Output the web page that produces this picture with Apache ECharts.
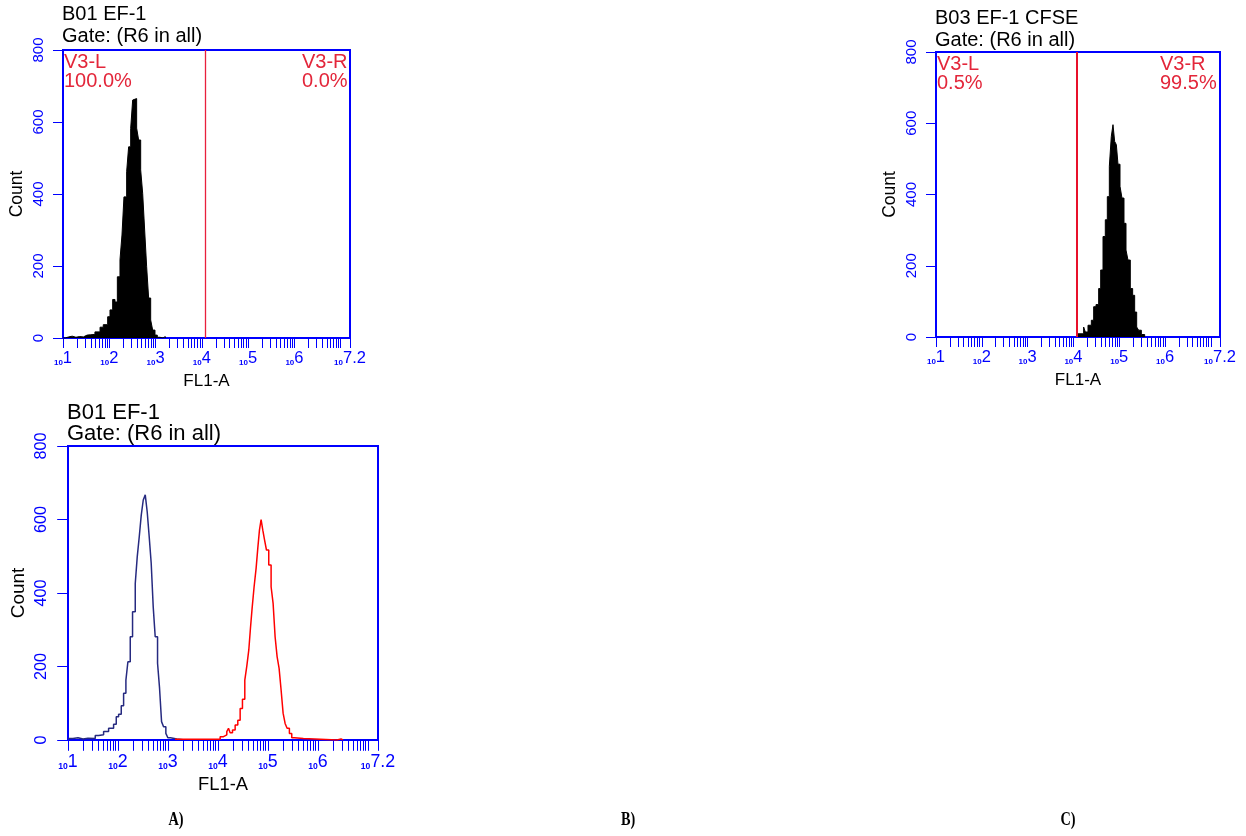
<!DOCTYPE html>
<html>
<head>
<meta charset="utf-8">
<script src="https://cdn.jsdelivr.net/npm/echarts@6/dist/echarts.min.js"></script>
<style>
html,body{margin:0;padding:0;background:#fff;}
#c{width:1246px;height:836px;}
</style>
</head>
<body>
<div id="c"></div>
<script>
// ---- Data (x = log10(FL1-A) bin left edge, y = count) ----
const B01_X = [1.0, 1.05, 1.12, 1.20, 1.28, 1.36, 1.44, 1.52, 1.60, 1.69, 1.80, 1.87, 1.965, 2.015, 2.073, 2.123, 2.174, 2.231, 2.274, 2.317, 2.375, 2.418, 2.462, 2.505, 2.548, 2.591, 2.634, 2.678, 2.721, 2.764, 2.807, 2.85, 2.894, 2.937, 2.987, 3.037, 3.095, 3.16, 3.21];
const B01_Y = [0, 3, 5, 2, 4, 3, 8, 9, 10, 17, 30, 37, 59, 78, 107, 100, 170, 217, 286, 392, 462, 531, 582, 661, 665, 583, 550, 467, 402, 300, 198, 111, 50, 22, 8, 2, 0, 4, 0];

const B03_X = [4.078, 4.223, 4.260, 4.318, 4.391, 4.442, 4.493, 4.551, 4.595, 4.646, 4.696, 4.740, 4.784, 4.827, 4.864, 4.900, 4.937, 4.973, 5.017, 5.060, 5.104, 5.148, 5.191, 5.242, 5.293, 5.337, 5.381, 5.424, 5.483, 5.555];
const B03_Y = [9, 28, 14, 33, 47, 85, 91, 136, 188, 282, 329, 394, 479, 563, 596, 549, 540, 485, 423, 390, 319, 244, 216, 136, 117, 70, 28, 19, 7, 0];

const OVL_BLUE_X = [1.0, 1.1, 1.2, 1.3, 1.4, 1.545, 1.612, 1.712, 1.812, 1.912, 1.965, 2.012, 2.065, 2.112, 2.158, 2.198, 2.245, 2.291, 2.345, 2.385, 2.425, 2.465, 2.505, 2.545, 2.584, 2.624, 2.664, 2.704, 2.744, 2.791, 2.831, 2.871, 2.911, 2.957, 2.997, 3.051, 3.177, 3.3];
const OVL_BLUE_Y = [4, 6, 3, 5, 4, 12, 14, 23, 32, 43, 63, 70, 93, 127, 163, 213, 281, 349, 426, 499, 553, 612, 653, 667, 621, 553, 481, 363, 281, 209, 141, 50, 36, 18, 6, 3, 1, 0];

const OVL_RED_X = [3.14, 4.043, 4.110, 4.176, 4.210, 4.243, 4.29, 4.343, 4.396, 4.443, 4.489, 4.536, 4.576, 4.616, 4.649, 4.682, 4.722, 4.762, 4.796, 4.829, 4.862, 4.896, 4.929, 4.969, 5.015, 5.062, 5.102, 5.142, 5.182, 5.222, 5.262, 5.302, 5.342, 5.382, 5.428, 5.475, 5.528, 5.708, 6.38, 6.46, 6.5];
const OVL_RED_Y = [2, 9, 14, 23, 32, 20, 27, 41, 54, 86, 111, 163, 201, 245, 304, 358, 417, 467, 522, 571, 600, 571, 546, 517, 476, 417, 372, 281, 227, 195, 136, 73, 45, 32, 18, 6, 4, 0, 3, 0, 0];

const X_MIN = 1, X_MAX = 7.2;
const X_LABEL_EXPS = [1, 2, 3, 4, 5, 6, 7.2];
const Y_MIN = 0, Y_MAX = 800, Y_STEP = 200;
const GATE_LOG = 4.08;
const TITLES = [["B01 EF-1", "Gate: (R6 in all)"], ["B03 EF-1 CFSE", "Gate: (R6 in all)"], ["B01 EF-1", "Gate: (R6 in all)"]];
const GATE_B01 = ["V3-L", "100.0%", "V3-R", "0.0%"];
const GATE_B03 = ["V3-L", "0.5%", "V3-R", "99.5%"];
const PANEL_LABELS = ["A)", "B)", "C)"];

// ---- helpers ----
const BLUE = '#0000ff';
const RED_TXT = '#e3263a';
const FONT = 'Liberation Sans';
function pairs(xs, ys) { return xs.map((x, i) => [x, ys[i]]); }
const TICK_VALUES = [];
for (let k = 1; k <= 6; k++) for (let m = 1; m <= 9; m++) TICK_VALUES.push(k + Math.log10(m));
TICK_VALUES.push(7, 7.2);

function xAxisCfg(gi, f, gap) {
  return {
    type: 'value', gridIndex: gi, min: X_MIN, max: X_MAX,
    axisLine: { show: true, onZero: false, lineStyle: { color: BLUE, width: 2 } },
    axisTick: { show: true, customValues: TICK_VALUES, length: 10 * f, lineStyle: { color: BLUE, width: 1 } },
    axisLabel: {
      customValues: X_LABEL_EXPS, margin: 12 * f,
      formatter: v => '{s|10}{e|' + v + '}',
      rich: {
        s: { fontSize: 8 * f, color: BLUE, fontFamily: FONT, verticalAlign: 'bottom', fontWeight: 'bold' },
        e: { fontSize: 16.5 * f, color: BLUE, fontFamily: FONT, verticalAlign: 'bottom' }
      }
    },
    splitLine: { show: false },
    name: 'FL1-A', nameLocation: 'middle', nameGap: gap,
    nameTextStyle: { color: '#000', fontSize: 17 * f, fontFamily: FONT }
  };
}
function yAxisCfg(gi, f, gap) {
  return {
    type: 'value', gridIndex: gi, min: Y_MIN, max: Y_MAX, interval: Y_STEP,
    axisLine: { show: true, lineStyle: { color: BLUE, width: 2 } },
    axisTick: { show: true, length: 10 * f, lineStyle: { color: BLUE, width: 1 } },
    axisLabel: { rotate: 90, color: BLUE, fontSize: 15 * f, margin: 17 * f, fontFamily: FONT },
    splitLine: { show: false },
    name: 'Count', nameLocation: 'middle', nameGap: gap, nameRotate: 90,
    nameTextStyle: { color: '#000', fontSize: 17.5 * f, fontFamily: FONT }
  };
}
function gateLine(color, width) {
  return { silent: true, symbol: 'none', label: { show: false }, animation: false,
    emphasis: { disabled: true },
    lineStyle: { color: color, width: width, type: 'solid', opacity: 1 }, data: [{ xAxis: GATE_LOG }] };
}
function txt(x, y, s, size, color) {
  return { type: 'text', x: x, y: y, style: { text: s, fontSize: size, fontFamily: FONT, fill: color, textVerticalAlign: 'middle' } };
}
function panelLabel(x, s) {
  return { type: 'text', x: x, y: 820, scaleX: 0.75,
    style: { text: s, fontSize: 19, fontWeight: 'bold', fontFamily: 'Liberation Serif', fill: '#000', textAlign: 'center', textVerticalAlign: 'middle' } };
}

const grids = [
  { left: 63, top: 50, width: 287, height: 288 },
  { left: 936, top: 52, width: 284, height: 285 },
  { left: 68, top: 446, width: 310, height: 294 }
];
grids.forEach(g => { g.show = true; g.borderColor = BLUE; g.borderWidth = 2; g.containLabel = false; });

const option = {
  animation: false,
  backgroundColor: '#fff',
  textStyle: { fontFamily: FONT },
  grid: grids,
  xAxis: [xAxisCfg(0, 1, 35), xAxisCfg(1, 1, 35), xAxisCfg(2, 1.08, 36)],
  yAxis: [yAxisCfg(0, 1, 37), yAxisCfg(1, 1, 37), yAxisCfg(2, 1.08, 40)],
  series: [
    { type: 'line', xAxisIndex: 0, yAxisIndex: 0, step: 'end', showSymbol: false, data: pairs(B01_X, B01_Y),
      lineStyle: { color: '#000', width: 1 }, areaStyle: { color: '#000', opacity: 1 }, markLine: gateLine('#e8203c', 1.3) },
    { type: 'line', xAxisIndex: 1, yAxisIndex: 1, step: 'end', showSymbol: false, data: pairs(B03_X, B03_Y),
      lineStyle: { color: '#000', width: 1 }, areaStyle: { color: '#000', opacity: 1 }, markLine: gateLine('#e8102a', 2) },
    { type: 'line', xAxisIndex: 2, yAxisIndex: 2, step: 'end', showSymbol: false, data: pairs(OVL_BLUE_X, OVL_BLUE_Y),
      lineStyle: { color: '#262a80', width: 1.5 } },
    { type: 'line', xAxisIndex: 2, yAxisIndex: 2, step: 'end', showSymbol: false, data: pairs(OVL_RED_X, OVL_RED_Y),
      lineStyle: { color: '#ff0000', width: 1.5 } }
  ],
  graphic: [
    txt(62, 14.5, TITLES[0][0], 20, '#000'),
    txt(62, 36, TITLES[0][1], 20, '#000'),
    txt(935, 18.5, TITLES[1][0], 20, '#000'),
    txt(935, 40, TITLES[1][1], 20, '#000'),
    txt(67, 412.5, TITLES[2][0], 22, '#000'),
    txt(67, 434, TITLES[2][1], 22, '#000'),
    txt(64, 62.5, GATE_B01[0], 20, RED_TXT),
    txt(64, 81, GATE_B01[1], 20, RED_TXT),
    txt(302, 62.5, GATE_B01[2], 20, RED_TXT),
    txt(302, 81, GATE_B01[3], 20, RED_TXT),
    txt(937, 64.5, GATE_B03[0], 20, RED_TXT),
    txt(937, 83, GATE_B03[1], 20, RED_TXT),
    txt(1160, 64.5, GATE_B03[2], 20, RED_TXT),
    txt(1160, 83, GATE_B03[3], 20, RED_TXT),
    panelLabel(176, PANEL_LABELS[0]),
    panelLabel(628, PANEL_LABELS[1]),
    panelLabel(1068, PANEL_LABELS[2])
  ]
};
const chart = echarts.init(document.getElementById('c'), null, { renderer: 'canvas' });
chart.setOption(option);
</script>
</body>
</html>
